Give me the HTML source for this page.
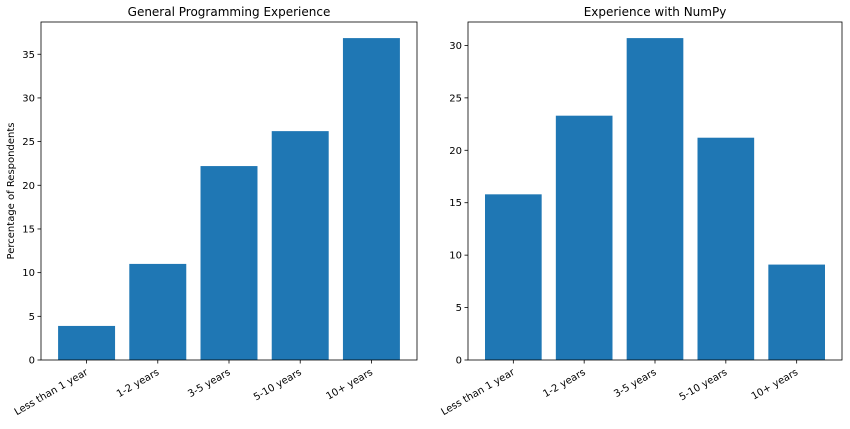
<!DOCTYPE html>
<html><head><meta charset="utf-8"><style>
body{margin:0;background:#fff;font-family:"Liberation Sans","DejaVu Sans",sans-serif}
svg text{font-family:"DejaVu Sans","Liberation Sans",sans-serif;fill:#000}
</style></head><body>
<svg id="c" width="850" height="424"></svg>
<script>
const categories=["Less than 1 year","1-2 years","3-5 years","5-10 years","10+ years"];
const generalValues=[3.9,11.0,22.2,26.2,36.85];
const numpyValues=[15.8,23.3,30.7,21.2,9.1];
const generalTicks=[0,5,10,15,20,25,30,35];
const numpyTicks=[0,5,10,15,20,25,30];
const svg=document.getElementById('c');
const NS='http://www.w3.org/2000/svg';
function mk(t,a,p){const e=document.createElementNS(NS,t);for(const k in a)e.setAttribute(k,a[k]);(p||svg).appendChild(e);return e;}
function panel(id,x0,x1,y0,y1,vals,ticks,title,ylabel){
  const g=mk('g',{});
  
  
  const ymax=Math.max(...vals)*1.05;
  const n=vals.length, lo=-0.4-0.05*(n-0.2), span=(n-0.2)*1.1;
  const xs=i=>x0+(i-lo)/span*(x1-x0);
  const ys=v=>y1-v/ymax*(y1-y0);
  vals.forEach((v,i)=>{
    const r=mk('rect',{x:xs(i-0.4),y:ys(v),width:xs(0.4)-xs(-0.4),height:y1-ys(v),fill:'#1f77b4'},g);
    
    
  });
  ticks.forEach(t=>{
    mk('line',{x1:x0-3.5,x2:x0,y1:ys(t),y2:ys(t),stroke:'#000','stroke-width':0.8},g);
    const tx=mk('text',{x:x0-6,y:ys(t)+3.5,'text-anchor':'end','font-size':10},g);tx.textContent=t;
    
    
  });
  categories.forEach((c,i)=>{
    const x=xs(i);
    mk('line',{x1:x,x2:x,y1:y1,y2:y1+3.5,stroke:'#000','stroke-width':0.8},g);
    const tx=mk('text',{x:x+2,y:y1+14,'text-anchor':'end','font-size':10,transform:`rotate(-30 ${x+2} ${y1+14})`},g);tx.textContent=c;
    
    
  });
  mk('rect',{x:x0,y:y0,width:x1-x0,height:y1-y0,fill:'none',stroke:'#000','stroke-width':0.8},g);
  const t=mk('text',{x:(x0+x1)/2,y:y0-6,'text-anchor':'middle','font-size':12},g);t.textContent=title;
  
  
  if(ylabel){const yl=mk('text',{x:14,y:(y0+y1)/2,'text-anchor':'middle','font-size':10,transform:`rotate(-90 14 ${(y0+y1)/2})`},g);yl.textContent=ylabel;
    
    }
}
panel('general-programming-panel',41,417,22,360,generalValues,generalTicks,'General Programming Experience','Percentage of Respondents');
panel('numpy-panel',468,842,22,360,numpyValues,numpyTicks,'Experience with NumPy',null);
</script>
</body></html>
